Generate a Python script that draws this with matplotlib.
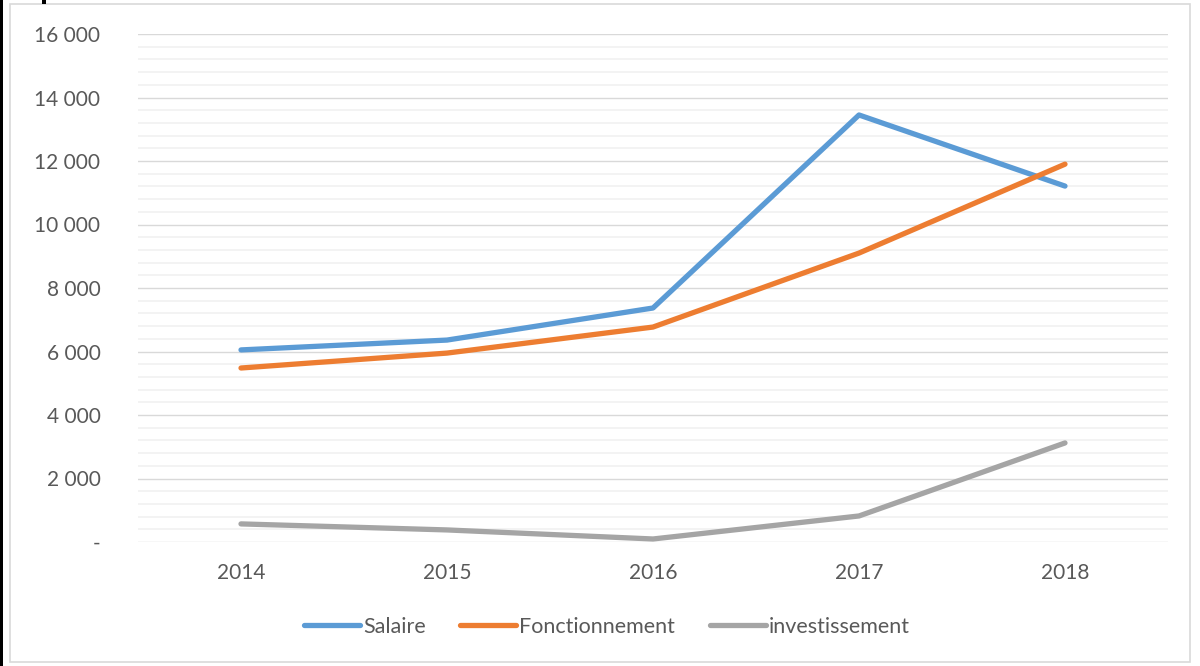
import matplotlib
matplotlib.use("Agg")
import matplotlib.pyplot as plt
from matplotlib.patches import Rectangle
from matplotlib.ticker import MultipleLocator, FuncFormatter

years = ["2014", "2015", "2016", "2017", "2018"]
salaire = [6050, 6360, 7370, 13450, 11210]
fonctionnement = [5480, 5950, 6770, 9100, 11900]
investissement = [570, 380, 95, 820, 3120]

plt.rcParams['font.family'] = ['Lato', 'DejaVu Sans']

W, H = 1200, 666
fig = plt.figure(figsize=(W / 100, H / 100), dpi=100)
ax = fig.add_axes([138 / W, 1 - 542 / H, (1168 - 138) / W, (542 - 34) / H])

x = list(range(len(years)))
ax.plot(x, salaire, color="#5B9BD5", lw=3.8, solid_capstyle="round", solid_joinstyle="round", label="Salaire", zorder=3)
ax.plot(x, fonctionnement, color="#ED7D31", lw=3.8, solid_capstyle="round", solid_joinstyle="round", label="Fonctionnement", zorder=3)
ax.plot(x, investissement, color="#A5A5A5", lw=3.8, solid_capstyle="round", solid_joinstyle="round", label="investissement", zorder=3)

ax.set_xlim(-0.5, len(years) - 0.5)
ax.set_ylim(0, 16000)
ax.set_xticks(x)
ax.set_xticklabels(years)
ax.yaxis.set_major_locator(MultipleLocator(2000))
ax.yaxis.set_minor_locator(MultipleLocator(400))


def fmt(v, pos):
    if abs(v) < 1e-6:
        return "-"
    return f"{int(round(v)):,}".replace(",", " ")


ax.yaxis.set_major_formatter(FuncFormatter(fmt))
ax.grid(which="major", axis="y", color="#d9d9d9", lw=1.0, zorder=1)
ax.grid(which="minor", axis="y", color="#f2f2f2", lw=1.3, zorder=0)
ax.set_axisbelow(True)
for s in ax.spines.values():
    s.set_visible(False)
ax.tick_params(axis="both", which="both", length=0, labelcolor="#595959", labelsize=15)
ax.tick_params(axis="y", pad=27)
ax.tick_params(axis="x", pad=15)
for lab in ax.get_yticklabels():
    lab.set_horizontalalignment("right")

leg = fig.legend(loc="center", bbox_to_anchor=(607 / W, 1 - 627 / H), ncol=3, frameon=False,
                 fontsize=15.5, handlelength=2.6, handletextpad=0.14, columnspacing=1.6, labelcolor="#595959")

# frame around chart
fig.patches.append(Rectangle((10 / W, 4 / H), (1190 - 10) / W, (662 - 4) / H, transform=fig.transFigure,
                             fill=False, edgecolor="#d9d9d9", lw=1.2, zorder=0))
fig.patches.append(Rectangle((0, 0), 3 / W, 1, transform=fig.transFigure, facecolor="black", edgecolor="none"))
fig.patches.append(Rectangle((42 / W, 1 - 4 / H), 4 / W, 4 / H, transform=fig.transFigure, facecolor="black", edgecolor="none"))

fig.savefig("out.png", dpi=100)
